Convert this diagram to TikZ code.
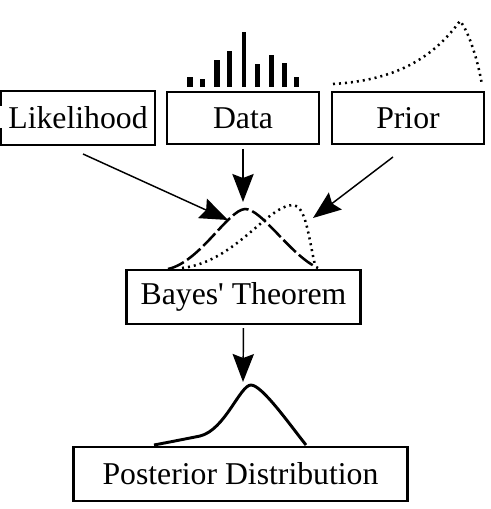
\documentclass[tikz,border=0pt]{standalone}
\usepackage{fontspec}
\setmainfont{Liberation Serif}
\usetikzlibrary{arrows.meta}
\tikzset{
  box/.style={draw,line width=1.5pt,inner sep=0pt,font=\fontsize{23.8}{28}\selectfont},
  bigbox/.style={box,line width=2.2pt},
  arr/.style={line width=1.1pt,-{Stealth[length=21pt,width=16pt,inset=3pt]}},
  curve/.style={line width=1.9pt},
}
\begin{document}
\begin{tikzpicture}[x=0.75pt,y=-0.75pt]
        \useasboundingbox(0,0)rectangle(490,509);
        \node[box,draw=none,minimum width=114pt,minimum height=39pt](lik)at(78,118){Likelihood};
        \draw[line width=1.5pt]([yshift=-11pt]lik.north west)--(lik.north west)--(lik.north east)--(lik.south east)--(lik.south west)--([yshift=13pt]lik.south west);
        \node[box,minimum width=114pt,minimum height=39pt](data)at(243,118){Data};
        \node[box,minimum width=114pt,minimum height=39pt](prior)at(408,118){Prior};
        \node[bigbox,minimum width=176pt,minimum height=40.5pt](bayes)at(243.5,297){Bayes\textquotesingle\ Theorem};
        \node[bigbox,minimum width=251pt,minimum height=40.5pt](post)at(240.5,474){Posterior Distribution};
        % data bars
        \foreach \xa/\xb/\top in {187/193/77,200/205/79,214/220/60,227/232/51,242/246/32,255/260/64,269/274/55,282/287/63,294/299/77}
            \fill(\xa,87)rectangle(\xb,\top);
        % prior
        \draw[curve,dash pattern=on 1.5pt off 3pt](333,84)..controls(400,80)and(435,55)..(460,21)..controls(468,30)and(478,60)..(482,85);
        % likelihood and prior above Bayes
        \draw[curve,dash pattern=on 13pt off 3pt](168,269)..controls(200,262)and(228,210)..(245,209)..controls(262,209)and(290,255)..(318,268);
        \draw[curve,dash pattern=on 1.5pt off 3pt](182,268)..controls(235,262)and(268,205)..(293,205)..controls(306,205)and(309,240)..(315,265);
        % posterior
        \draw[curve,line width=2.2pt](154,445)..controls(175,441)..(200,436)..controls(225,430)and(240,385)..(251,385)..controls(262,385)and(290,425)..(306,445);
        \coordinate(likfoot)at(83,154);
        \coordinate(priorfoot)at(393,157);
        \coordinate(liktip)at(228,220);
        \coordinate(datatip)at(243,202);
        \coordinate(priortip)at(313,218);
        \coordinate(posttip)at(243,382);
        \draw[arr](likfoot)--(liktip);
        \draw[arr,shorten <=3pt](data.south)--(datatip);
        \draw[arr](priorfoot)--(priortip);
        \draw[arr,shorten <=2pt](bayes.south)--(posttip);
    \end{tikzpicture}
\end{document}
